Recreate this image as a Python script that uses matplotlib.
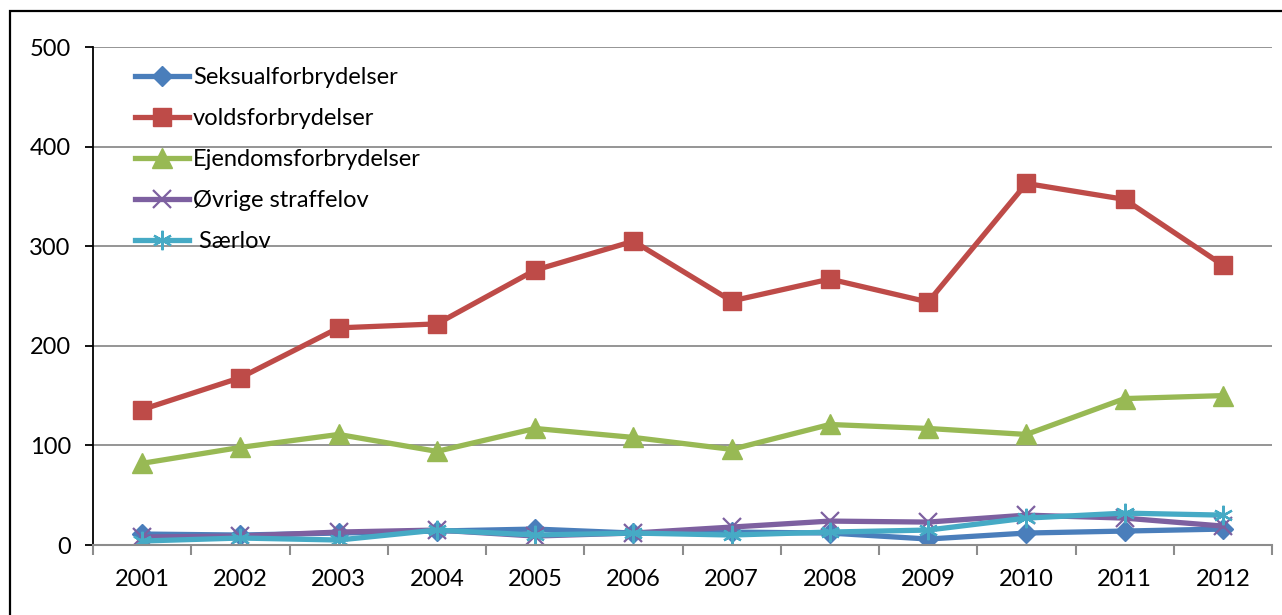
import matplotlib.pyplot as plt
from matplotlib.patches import Rectangle

years = ['2001', '2002', '2003', '2004', '2005', '2006',
         '2007', '2008', '2009', '2010', '2011', '2012']

seksual = [11, 10, 12, 14, 16, 12, 13, 12, 6, 12, 14, 16]
volds = [136, 168, 218, 222, 276, 305, 245, 267, 244, 363, 347, 281]
ejendom = [82, 98, 111, 94, 117, 108, 96, 121, 117, 111, 147, 150]
ovrige = [8, 9, 13, 15, 9, 12, 18, 24, 23, 30, 27, 19]
saerlov = [4, 7, 5, 15, 10, 12, 10, 13, 15, 27, 32, 30]

labels = ['Seksualforbrydelser', 'voldsforbrydelser', 'Ejendomsforbrydelser',
          'Øvrige straffelov', ' Særlov']

plt.rcParams['font.family'] = ['Lato', 'DejaVu Sans']

fig = plt.figure(figsize=(12.82, 6.15), dpi=100)
ax = fig.add_axes([93 / 1282, 1 - 545 / 615, (1272 - 93) / 1282, (545 - 47) / 615])

x = range(len(years))
lw = 3.8
ax.plot(x, seksual, color='#4A7EBB', lw=lw, marker='D', ms=10, mec='#4A7EBB', label=labels[0])
ax.plot(x, volds, color='#BE4B48', lw=lw, marker='s', ms=13, mec='#BE4B48', label=labels[1])
ax.plot(x, ejendom, color='#98B954', lw=lw, marker='^', ms=14, mec='#98B954', label=labels[2])
ax.plot(x, ovrige, color='#7D60A0', lw=lw, marker='x', ms=13, mew=1.6, label=labels[3])
ax.plot(x, saerlov, color='#46AAC5', lw=lw, marker=(6, 2, 0), ms=14, mew=1.6, label=labels[4])

ax.set_xlim(-0.5, len(years) - 0.5)
ax.set_ylim(0, 500)
ax.set_yticks(range(0, 501, 100))
ax.set_xticks(list(x))
ax.set_xticklabels(years)
ax.set_xticks([i - 0.5 for i in range(len(years) + 1)], minor=True)

ax.grid(axis='y', color='#8C8C8C', lw=1.3)
ax.set_axisbelow(True)
for s in ['top', 'right']:
    ax.spines[s].set_visible(False)
ax.spines['left'].set_color('black')
ax.spines['left'].set_linewidth(1.3)
ax.spines['bottom'].set_color('#8C8C8C')
ax.spines['bottom'].set_linewidth(1.5)

ax.tick_params(axis='y', labelsize=17, length=6, width=1.3, color='black', pad=10)
ax.tick_params(axis='x', which='major', labelsize=17, length=0, pad=17)
ax.tick_params(axis='x', which='minor', length=7, width=1.5, color='#8C8C8C')

ax.legend(loc='upper left', bbox_to_anchor=(135 / 1282, 1 - 67 / 615),
          bbox_transform=fig.transFigure, frameon=False, fontsize=17,
          borderpad=0, borderaxespad=0, handlelength=2.3, handletextpad=0.15,
          labelspacing=0.85)

# frame around the chart
fig.patches.append(Rectangle((10 / 1282, -0.1), 1.2, 1 - 11 / 615 + 0.1,
                             transform=fig.transFigure, fill=False,
                             edgecolor='black', lw=1.6))

fig.savefig('out.png', dpi=100)
